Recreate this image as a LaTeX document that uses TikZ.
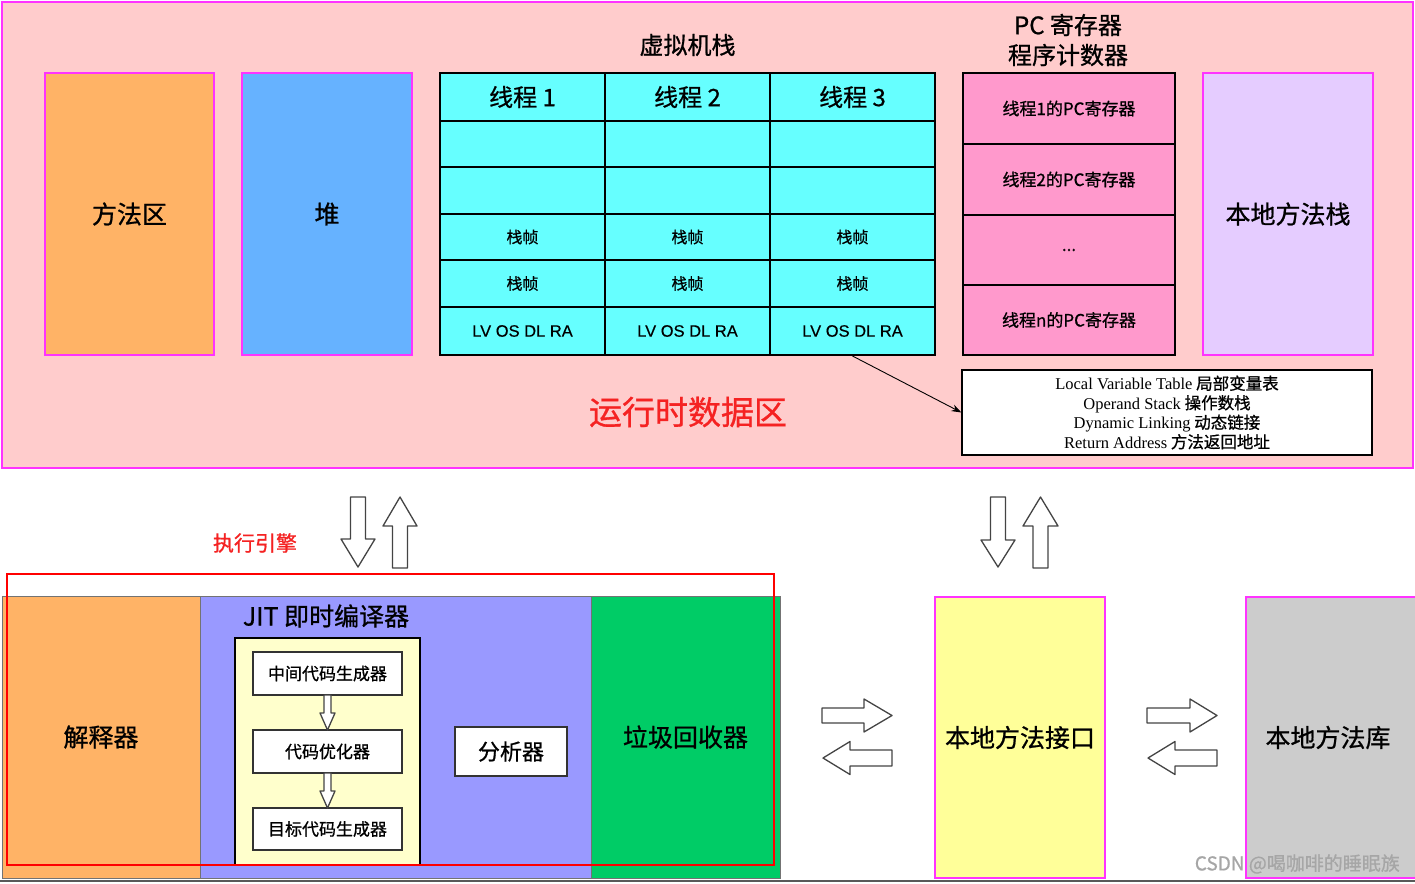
\documentclass[tikz,border=0pt]{standalone}
\usepackage{fontspec}
\setmainfont{Noto Sans CJK SC}[FakeBold=0.8]
\newfontfamily\legendfont{Liberation Serif}
\newfontfamily\latinfont{Liberation Sans}[FakeBold=0.4]
\usetikzlibrary{arrows.meta}
\definecolor{mag}{HTML}{FF33FF}
\definecolor{pinkbg}{HTML}{FFCCCC}
\definecolor{orangec}{HTML}{FFB366}
\definecolor{bluec}{HTML}{66B2FF}
\definecolor{cyanc}{HTML}{66FFFF}
\definecolor{pcpink}{HTML}{FF99CC}
\definecolor{lilac}{HTML}{E5CCFF}
\definecolor{jitblue}{HTML}{9999FF}
\definecolor{gcgreen}{HTML}{00CC66}
\definecolor{paleyellow}{HTML}{FFFFCC}
\definecolor{nyellow}{HTML}{FFFF99}
\definecolor{libgray}{HTML}{CCCCCC}
\definecolor{redtext}{HTML}{F52222}
\definecolor{arrowgray}{HTML}{444444}
\newcommand\fsz[1]{\fontsize{#1}{#1}\selectfont}
% vertical block arrow: cx, tail y, tip y, shaft half width, head half width, head base y
\newcommand\vblockarrow[6]{%
  \draw[blockarrow] ({#1-#4},#2) -- ({#1+#4},#2) -- ({#1+#4},#6) -- ({#1+#5},#6)
    -- (#1,#3) -- ({#1-#5},#6) -- ({#1-#4},#6) -- cycle;}
% horizontal block arrow: cy, tail x, tip x, shaft half width, head half width, head base x
\newcommand\hblockarrow[6]{%
  \draw[blockarrow] (#2,{#1-#4}) -- (#2,{#1+#4}) -- (#6,{#1+#4}) -- (#6,{#1+#5})
    -- (#3,#1) -- (#6,{#1-#5}) -- (#6,{#1-#4}) -- cycle;}
\tikzset{
  mbox/.style={draw=mag, line width=1.5pt, inner sep=0pt, font=\fsz{25}},
  cell/.style={draw=black, line width=2pt, fill=cyanc, inner sep=0pt, minimum width=165pt},
  pccell/.style={draw=black, line width=2pt, fill=pcpink, inner sep=0pt, minimum width=212pt, minimum height=71pt, font=\fsz{17}},
  engbox/.style={draw=black!55, line width=1pt, inner sep=0pt, font=\fsz{25}},
  jitstep/.style={draw=black!80, line width=1.5pt, fill=white, inner sep=0pt, minimum width=149pt, font=\fsz{17}},
  blockarrow/.style={draw=arrowgray, line width=1.3pt, fill=white, line join=round},
  lbl/.style={inner sep=0pt},
}
\begin{document}
\begin{tikzpicture}[x=1pt,y=-1pt]
\useasboundingbox[fill=white] (0,0) rectangle (1415,883);

% runtime data area
\node[draw=mag, line width=1.5pt, fill=pinkbg, minimum width=1411pt, minimum height=466pt, inner sep=0pt] (rt) at (707.5,235) {};
\node[mbox, fill=orangec, minimum width=169pt, minimum height=282pt] (method) at (129.5,214) {方法区};
\node[mbox, fill=bluec, minimum width=170pt, minimum height=282pt] (heap) at (327,214) {堆};

% VM stack
\node[lbl, font=\fsz{24}] (vmlabel) at (687.5,45) {虚拟机栈};
\foreach \i/\cx in {1/522.5, 2/687.5, 3/852.5}{
  \node[cell, minimum height=48pt, font=\fsz{24}] (h\i) at (\cx,97) {线程 \i};
  \node[cell, minimum height=46pt] (ea\i) at (\cx,144) {};
  \node[cell, minimum height=47pt] (eb\i) at (\cx,190.5) {};
  \node[cell, minimum height=46pt, font=\fsz{16}] (fa\i) at (\cx,237) {栈帧};
  \node[cell, minimum height=47pt, font=\fsz{16}] (fb\i) at (\cx,283.5) {栈帧};
  \node[cell, minimum height=48pt, font=\latinfont\fsz{16.5}] (lv\i) at (\cx,331) {LV OS DL RA};
}

% PC registers
\node[lbl, font=\fontsize{24}{30}\selectfont, align=center] (pclabel) at (1068,40) {PC 寄存器\\程序计数器};
\node[pccell] (pc1) at (1069,108.5) {线程1的PC寄存器};
\node[pccell] (pc2) at (1069,179.5) {线程2的PC寄存器};
\node[pccell, minimum height=70pt] (pc3) at (1069,250) {...};
\node[pccell, minimum height=70pt] (pc4) at (1069,320) {线程n的PC寄存器};

% native method stack
\node[mbox, fill=lilac, minimum width=170pt, minimum height=282pt] (nstack) at (1288,214) {本地方法栈};

% legend
\node[draw=black, line width=1.2pt, fill=white, minimum width=410pt, minimum height=85pt, inner sep=0pt, align=center,
      font=\fontsize{16.5}{19.5}\selectfont] (legend) at (1167,412.5)
  {{\legendfont Local Variable Table} 局部变量表\\
   {\legendfont Operand Stack} 操作数栈\\
   {\legendfont Dynamic Linking} 动态链接\\
   {\legendfont Return Address} 方法返回地址};
\draw[-{Stealth[length=10pt,width=7pt]}, line width=0.9pt] (lv3.south) -- (legend.west);

\node[lbl, font=\fsz{33}, text=redtext] (rtlabel) at (688,412) {运行时数据区};

% vertical arrows
\vblockarrow{358}{497}{567}{7.5}{17}{539}
\vblockarrow{400}{568}{497}{7.5}{17}{526}
\vblockarrow{998}{497}{567}{7.5}{17}{540}
\vblockarrow{1040.5}{568}{497}{7.5}{17.5}{526}

\node[lbl, font=\fsz{21}, text=redtext] (englabel) at (255,543) {执行引擎};

% execution engine
\node[engbox, fill=orangec, minimum width=198pt, minimum height=282pt] (interp) at (101,737) {解释器};
\node[engbox, fill=jitblue, minimum width=391pt, minimum height=282pt] (jit) at (395.5,737) {};
\node[engbox, fill=gcgreen, minimum width=189pt, minimum height=282pt] (gc) at (685.5,737) {垃圾回收器};
\node[lbl, font=\fsz{25}] (jitlabel) at (326,616) {JIT 即时编译器};
\node[draw=black, line width=2.5pt, fill=paleyellow, minimum width=185pt, minimum height=227pt, inner sep=0pt] (jitbox) at (327.5,751.5) {};
\node[jitstep, minimum height=43pt] (gen) at (327.5,673.5) {中间代码生成器};
\node[jitstep, minimum height=43pt] (opt) at (327.5,751.5) {代码优化器};
\node[jitstep, minimum height=42pt] (tgt) at (327.5,829) {目标代码生成器};
\vblockarrow{327.5}{695}{730}{3.5}{7.5}{713}
\vblockarrow{327.5}{773}{808}{3.5}{7.5}{791}
\node[draw=black!80, line width=1.5pt, fill=white, minimum width=112pt, minimum height=49pt, inner sep=0pt, font=\fsz{22}] (prof) at (511,751.5) {分析器};

% horizontal arrows
\hblockarrow{715.5}{822}{892}{7.5}{16.5}{864}
\hblockarrow{758}{892}{823}{8}{16.5}{850}
\hblockarrow{715.5}{1147}{1217}{7.5}{16.5}{1190}
\hblockarrow{758}{1217}{1148}{8}{16.5}{1175}

% native interface and library
\node[mbox, fill=nyellow, minimum width=170pt, minimum height=281pt] (jni) at (1020,737.5) {本地方法接口};
\node[mbox, fill=libgray, minimum width=178pt, minimum height=281pt] (nlib) at (1335,737.5) {\hspace*{-14pt}本地方法库};

% execution engine highlight
\node[draw=red, line width=2pt, minimum width=767pt, minimum height=291pt, inner sep=0pt] (engine) at (390.5,719.5) {};

% bottom edge and watermark
\draw[black!65, line width=2pt] (0,881) -- (1415,881);
\node[lbl, font=\fsz{19}, text=black!35, anchor=east] (wm) at (1400,864) {CSDN @喝咖啡的睡眠族};
\end{tikzpicture}
\end{document}
